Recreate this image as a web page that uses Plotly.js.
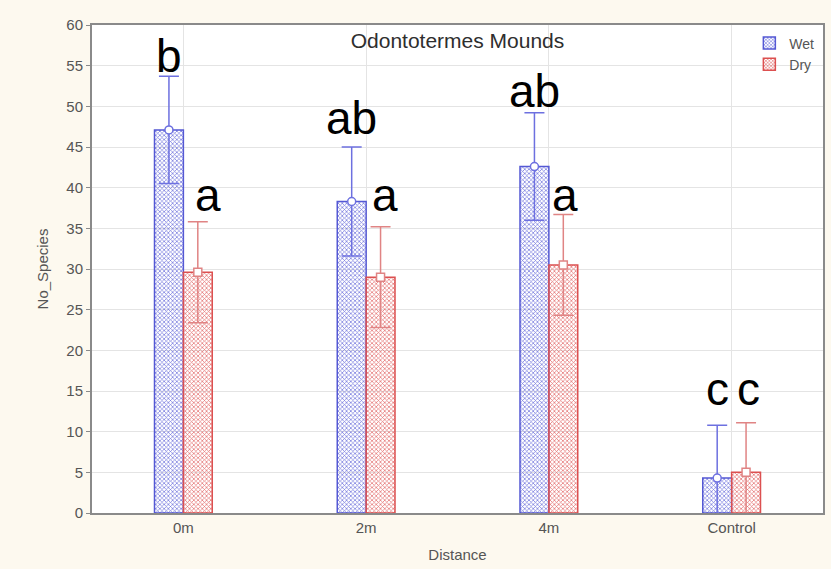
<!DOCTYPE html>
<html>
<head>
<meta charset="utf-8">
<script src="https://cdn.plot.ly/plotly-3.0.1.min.js"></script>
<style>
  html, body { margin: 0; padding: 0; background: #fdf9ef; }
  #chart { width: 831px; height: 569px; }
</style>
</head>
<body>
<div id="chart"></div>
<script>
// ---- data ----
const categories = ["0m", "2m", "4m", "Control"];
const wetMean = [47.1, 38.3, 42.6, 4.3];
const wetErr  = [6.6, 6.7, 6.6, 6.5];
const dryMean = [29.6, 29.0, 30.5, 5.0];
const dryErr  = [6.2, 6.2, 6.2, 6.1];
const wetLetters = ["b", "ab", "ab", "c"];
const dryLetters = ["a", "a", "a", "c"];

// ---- layout constants ----
const OFF = 0.079, BW = 0.158;
const idx = categories.map((_, i) => i);
const xWet = idx.map(i => i - OFF);
const xDry = idx.map(i => i + OFF);

const wetCol = "#5458d4", dryCol = "#dc5050";

const traces = [
  {
    type: "bar", name: "Wet", x: xWet, y: wetMean, width: BW,
    marker: { color: "#b9bbee", line: { color: wetCol, width: 1.5 },
              pattern: { shape: "x", fgcolor: "#6d71dc", size: 3, solidity: 0.4 } },
    error_y: { type: "data", array: wetErr, visible: true, color: "#6d70e0", thickness: 1.5, width: 10 },
    hoverinfo: "skip"
  },
  {
    type: "bar", name: "Dry", x: xDry, y: dryMean, width: BW,
    marker: { color: "#f5bcbc", line: { color: dryCol, width: 1.5 },
              pattern: { shape: "x", fgcolor: "#e26a6a", size: 3, solidity: 0.4 } },
    error_y: { type: "data", array: dryErr, visible: true, color: "#e08484", thickness: 1.5, width: 10 },
    hoverinfo: "skip"
  },
  {
    type: "scatter", mode: "markers", x: xWet, y: wetMean, showlegend: false, hoverinfo: "skip",
    marker: { symbol: "circle", size: 8, color: "#ffffff", line: { color: "#6d70e0", width: 1.5 } }
  },
  {
    type: "scatter", mode: "markers", x: xDry, y: dryMean, showlegend: false, hoverinfo: "skip",
    marker: { symbol: "square", size: 8, color: "#ffffff", line: { color: "#e08484", width: 1.5 } }
  }
];

// letter annotations
const letterFont = { family: "Liberation Sans, Arial, sans-serif", size: 46, color: "#000000" };
const wetLetterY = [54.2, 46.6, 49.9, 13.3];
const dryLetterY = [37.1, 37.1, 37.1, 13.3];
const dryLetterShift = [10, 4, 2, 2];
const annotations = [];
idx.forEach(i => {
  annotations.push({ x: xWet[i], y: wetLetterY[i], text: wetLetters[i], showarrow: false,
    xanchor: "center", yanchor: "bottom", yshift: -12, font: letterFont });
  annotations.push({ x: xDry[i], y: dryLetterY[i], text: dryLetters[i], showarrow: false,
    xanchor: "center", yanchor: "bottom", yshift: -12, xshift: dryLetterShift[i], font: letterFont });
});

const small = { family: "Liberation Sans, Arial, sans-serif", size: 15, color: "#555555" };

const layout = {
  width: 831, height: 569,
  margin: { l: 92, r: 8, t: 25, b: 56 },
  paper_bgcolor: "#fdf9ef",
  plot_bgcolor: "#ffffff",
  barmode: "overlay",
  showlegend: true,
  title: { text: "Odontotermes Mounds", x: 0.5, xref: "paper", xanchor: "center",
           y: 1, yref: "paper", yanchor: "top", pad: { t: 8 },
           font: { family: "Liberation Sans, Arial, sans-serif", size: 21, color: "#2e2e2e" } },
  xaxis: {
    range: [-0.5, 3.5], tickmode: "array", tickvals: idx, ticktext: categories,
    showgrid: true, gridcolor: "#e4e4e4", gridwidth: 1,
    showline: true, linecolor: "#8a8a8a", linewidth: 2, mirror: true,
    ticks: "", zeroline: false, tickfont: small,
    title: { text: "Distance", font: small, standoff: 14 }
  },
  yaxis: {
    range: [0, 60], dtick: 5, tick0: 0,
    showgrid: true, gridcolor: "#e4e4e4", gridwidth: 1,
    showline: true, linecolor: "#8a8a8a", linewidth: 2, mirror: true,
    ticks: "outside", ticklen: 4, tickcolor: "#8a8a8a", zeroline: false, tickfont: small,
    title: { text: "No_Species", font: small, standoff: 14 }
  },
  legend: {
    x: 0.995, xanchor: "right", y: 0.995, yanchor: "top",
    bgcolor: "rgba(0,0,0,0)", font: { family: "Liberation Sans, Arial, sans-serif", size: 14, color: "#555555" },
    itemwidth: 30, tracegroupgap: 0
  },
  annotations: annotations
};

Plotly.newPlot("chart", traces, layout, { staticPlot: true, displayModeBar: false });
</script>
</body>
</html>
